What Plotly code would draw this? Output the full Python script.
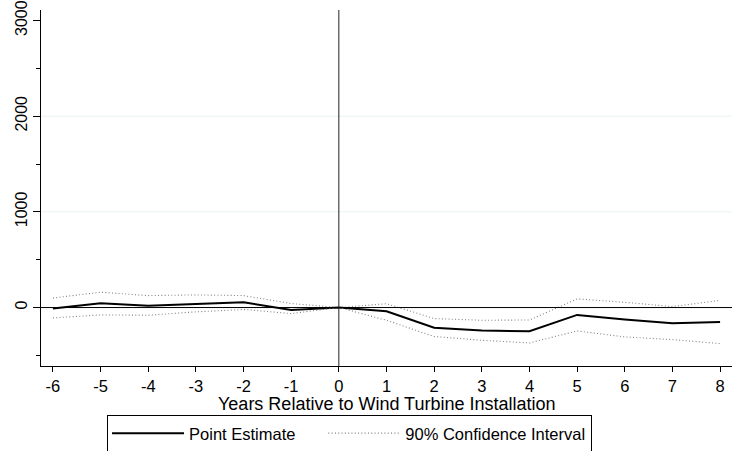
import plotly.graph_objects as go

# Event-study estimates by year relative to installation
years = [-6, -5, -4, -3, -2, -1, 0, 1, 2, 3, 4, 5, 6, 7, 8]
year_labels = ["-6", "-5", "-4", "-3", "-2", "-1", "0", "1", "2", "3", "4", "5", "6", "7", "8"]
point_estimate = [-10, 45, 20, 40, 55, -25, 0, -38, -210, -240, -248, -77, -125, -165, -150]
ci_upper = [100, 160, 125, 132, 125, 42, 0, 40, -115, -133, -130, 90, 55, 10, 75]
ci_lower = [-108, -77, -80, -45, -20, -63, 0, -133, -303, -342, -370, -245, -307, -335, -377]

y_major_ticks = [0, 1000, 2000, 3000]
y_tick_labels = ["0", "1000", "2000", "3000"]
y_grid_values = [1000, 2000]

x_title = "Years Relative to Wind Turbine Installation"

FONT = "Liberation Sans, Arial, sans-serif"
CI_STYLE = dict(color="#808080", width=1.1, dash="1px,2.3px")
PAD = "\u00a0" * 5  # extra room between the two legend entries

fig = go.Figure()

fig.add_trace(go.Scatter(
    x=years, y=point_estimate, mode="lines", name="Point Estimate" + PAD,
    line=dict(color="black", width=2),
))
fig.add_trace(go.Scatter(
    x=years, y=ci_upper, mode="lines", name="90% Confidence Interval",
    legendgroup="ci", line=CI_STYLE,
))
fig.add_trace(go.Scatter(
    x=years, y=ci_lower, mode="lines", name="90% Confidence Interval",
    legendgroup="ci", showlegend=False, line=CI_STYLE,
))

# light horizontal grid
for g in y_grid_values:
    fig.add_shape(type="line", xref="paper", x0=0, x1=1, yref="y", y0=g, y1=g,
                  line=dict(color="#eaf2f3", width=1), layer="below")

# reference lines at zero
fig.add_shape(type="line", xref="paper", x0=0, x1=1, yref="y", y0=0, y1=0,
              line=dict(color="black", width=1))
fig.add_shape(type="line", xref="x", x0=0, x1=0, yref="paper", y0=0, y1=1,
              line=dict(color="#222222", width=1))

# x-axis title
fig.add_annotation(
    text=x_title, xref="paper", x=0.5, xanchor="center",
    yref="paper", y=-0.107, yanchor="middle", showarrow=False,
    font=dict(family=FONT, size=18, color="black"),
)

fig.update_layout(
    width=732, height=451,
    margin=dict(l=41, r=0, t=10, b=85, autoexpand=False),
    paper_bgcolor="white", plot_bgcolor="white",
    font=dict(family=FONT, size=16, color="black"),
    showlegend=True,
    legend=dict(
        orientation="h", x=0.4465, xanchor="center",
        yref="container", y=0.08, yanchor="top",
        bordercolor="black", borderwidth=1, bgcolor="white",
        font=dict(family=FONT, size=16.5, color="black"),
        itemwidth=72,
        tracegroupgap=0,
    ),
    xaxis=dict(
        range=[-6.25, 8.25], tickmode="array", tickvals=years, ticktext=year_labels,
        ticks="outside", ticklen=5, tickcolor="black",
        showline=True, linecolor="black", linewidth=1,
        showgrid=False, zeroline=False,
        tickfont=dict(size=16.5),
    ),
    yaxis=dict(
        range=[-611, 3110], tickmode="array", tickvals=y_major_ticks,
        ticktext=y_tick_labels,
        ticks="outside", ticklen=7, tickcolor="black", tickangle=-90,
        showline=True, linecolor="black", linewidth=1,
        showgrid=False, zeroline=False,
        tickfont=dict(size=16),
        minor=dict(dtick=500, tick0=0, ticks="outside", ticklen=4,
                   tickcolor="black", showgrid=False),
    ),
)

fig.write_html("out.html")
